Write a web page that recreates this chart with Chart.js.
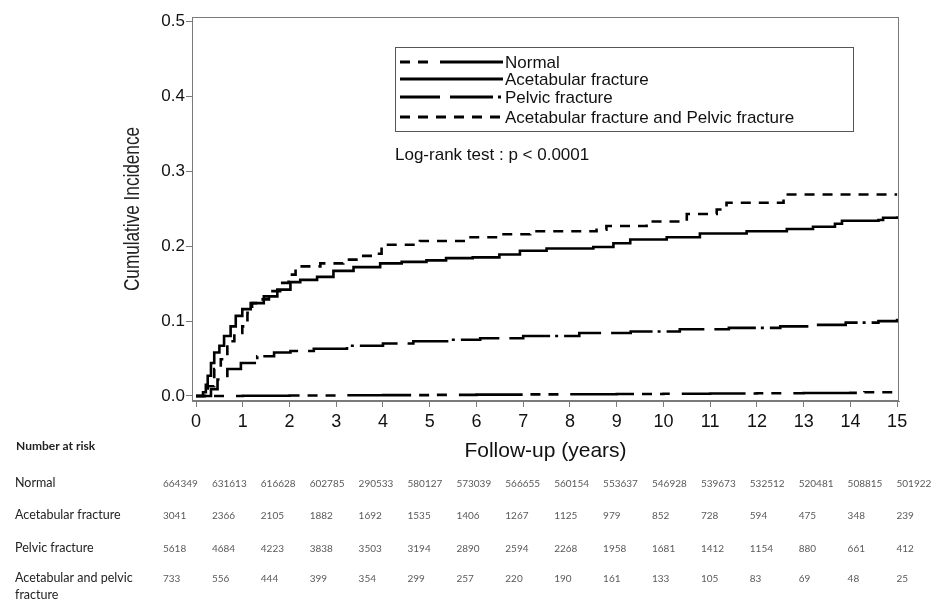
<!DOCTYPE html>
<html>
<head>
<meta charset="utf-8">
<script src="https://cdn.jsdelivr.net/npm/chart.js@4.4.1/dist/chart.umd.min.js"></script>
<style>
  body { margin: 0; background: #fff; }
  #wrap { width: 940px; height: 600px; }
</style>
</head>
<body>
<div id="wrap"><canvas id="km" width="940" height="600"></canvas></div>
<script>
// follow-up ticks (years)
const years = [0, 1, 2, 3, 4, 5, 6, 7, 8, 9, 10, 11, 12, 13, 14, 15];
const yTicks = [0, 0.1, 0.2, 0.3, 0.4, 0.5];

const seriesNames = ["Normal", "Acetabular fracture", "Pelvic fracture", "Acetabular fracture and Pelvic fracture"];

// cumulative incidence (time, value)
const tNormal = [0, 1, 2, 3, 4, 5, 6, 7, 8, 9, 10, 11, 12, 13, 14, 14.3, 15];
const vNormal = [0, 0.0003, 0.0006, 0.0009, 0.0012, 0.0015, 0.0018, 0.0021, 0.0024, 0.0027, 0.003, 0.0033, 0.0036, 0.0039, 0.0042, 0.005, 0.0052];

const tAcet = [0, 0.1, 0.15, 0.21, 0.25, 0.32, 0.39, 0.5, 0.6, 0.74, 0.85, 0.99, 1.17, 1.45, 1.74, 2.02, 2.23, 2.59, 2.94, 3.37, 3.94, 4.4, 4.93, 5.35, 5.92, 6.49, 6.93, 7.5, 8.5, 8.93, 9.29, 10.07, 10.78, 11.78, 12.64, 13.2, 13.67, 13.82, 14.6, 14.7, 15];
const vAcet = [0, 0, 0.005, 0.015, 0.027, 0.044, 0.058, 0.067, 0.08, 0.093, 0.107, 0.116, 0.124, 0.133, 0.142, 0.152, 0.155, 0.159, 0.167, 0.172, 0.177, 0.179, 0.181, 0.184, 0.185, 0.189, 0.194, 0.197, 0.199, 0.204, 0.209, 0.212, 0.217, 0.22, 0.223, 0.226, 0.23, 0.234, 0.235, 0.238, 0.24];

const tPelvic = [0, 0.18, 0.32, 0.46, 0.67, 0.96, 1.31, 1.67, 2.02, 2.52, 3.23, 4.0, 4.65, 5.5, 6.08, 7.0, 8.2, 9.3, 10.35, 11.4, 12.5, 13.2, 13.9, 14.6, 15];
const vPelvic = [0, 0, 0.009, 0.022, 0.036, 0.044, 0.053, 0.058, 0.06, 0.063, 0.067, 0.07, 0.073, 0.075, 0.077, 0.08, 0.084, 0.086, 0.089, 0.091, 0.093, 0.095, 0.098, 0.1, 0.103];

const tBoth = [0, 0.18, 0.25, 0.39, 0.53, 0.67, 0.82, 0.99, 1.1, 1.2, 1.35, 1.56, 1.8, 1.98, 2.13, 2.66, 3.15, 3.5, 3.86, 3.97, 4.79, 5.78, 6.49, 7.15, 8.57, 8.78, 9.64, 10.5, 11.14, 11.35, 12.57, 15];
const vBoth = [0, 0, 0.013, 0.036, 0.049, 0.073, 0.084, 0.093, 0.111, 0.124, 0.129, 0.14, 0.151, 0.162, 0.173, 0.177, 0.182, 0.187, 0.19, 0.202, 0.207, 0.212, 0.216, 0.22, 0.222, 0.227, 0.233, 0.243, 0.249, 0.258, 0.269, 0.269];

// number at risk table
const riskLabels = ["Normal", "Acetabular fracture", "Pelvic fracture", "Acetabular and pelvic\nfracture"];
const riskNormal = [664349, 631613, 616628, 602785, 290533, 580127, 573039, 566655, 560154, 553637, 546928, 539673, 532512, 520481, 508815, 501922];
const riskAcet = [3041, 2366, 2105, 1882, 1692, 1535, 1406, 1267, 1125, 979, 852, 728, 594, 475, 348, 239];
const riskPelvic = [5618, 4684, 4223, 3838, 3503, 3194, 2890, 2594, 2268, 1958, 1681, 1412, 1154, 880, 661, 412];
const riskBoth = [733, 556, 444, 399, 354, 299, 257, 220, 190, 161, 133, 105, 83, 69, 48, 25];

const sans = "'Liberation Sans', Arial, sans-serif";
const tableFont = "Lato, 'Open Sans', sans-serif";

function pts(t, v) {
  return t.map((x, i) => ({ x: x, y: v[i] }));
}

const dashes = [
  [10, 8, 10, 12, 64, 8],
  [],
  [40, 10, 43, 5, 3, 6],
  [10, 8]
];

const decor = {
  id: "decor",
  afterDraw(chart) {
    const ctx = chart.ctx;
    const a = chart.chartArea;
    ctx.save();

    // frame around plot
    ctx.strokeStyle = "#7a7a7a";
    ctx.lineWidth = 1;
    ctx.strokeRect(a.left + 0.5, a.top + 0.5, a.right - a.left - 1, a.bottom - a.top - 1);

    // legend box
    ctx.strokeStyle = "#555";
    ctx.strokeRect(395.5, 47.5, 458, 84);
    const ly = [62, 79, 97, 117];
    ctx.font = "17px " + sans;
    ctx.fillStyle = "#111";
    ctx.textBaseline = "middle";
    chart.data.datasets.forEach((ds, i) => {
      ctx.beginPath();
      ctx.setLineDash(ds.borderDash);
      ctx.lineWidth = 3;
      ctx.strokeStyle = "#000";
      ctx.moveTo(400, ly[i]);
      ctx.lineTo(503, ly[i]);
      ctx.stroke();
      ctx.fillText(ds.label, 505, ly[i] + 1);
    });
    ctx.setLineDash([]);

    ctx.fillText("Log-rank test : p < 0.0001", 395, 155);

    // y axis title, narrow tall type
    ctx.save();
    ctx.translate(133, (a.top + a.bottom) / 2);
    ctx.rotate(-Math.PI / 2);
    ctx.scale(0.78, 1);
    ctx.font = "22px " + sans;
    ctx.textAlign = "center";
    ctx.fillStyle = "#222";
    ctx.fillText("Cumulative Incidence", 0, 0);
    ctx.restore();

    // number at risk table
    ctx.textAlign = "left";
    ctx.fillStyle = "#222";
    ctx.font = "bold 12px " + tableFont;
    ctx.fillText("Number at risk", 16, 446);
    const rows = [riskNormal, riskAcet, riskPelvic, riskBoth];
    const ry = [483, 515, 548, 578];
    rows.forEach((row, r) => {
      ctx.font = "12.5px " + tableFont;
      ctx.fillStyle = "#222";
      riskLabels[r].split("\n").forEach((line, k) => {
        ctx.fillText(line, 15, ry[r] + k * 16.5);
      });
      ctx.font = "10px " + tableFont;
      ctx.fillStyle = "#5a5a5a";
      row.forEach((n, i) => {
        ctx.fillText(String(n), 163 + 48.9 * i, ry[r] + 1);
      });
    });
    ctx.restore();
  }
};

new Chart(document.getElementById("km"), {
  type: "line",
  data: {
    datasets: [
      { label: seriesNames[0], data: pts(tNormal, vNormal), borderDash: dashes[0] },
      { label: seriesNames[1], data: pts(tAcet, vAcet), borderDash: dashes[1] },
      { label: seriesNames[2], data: pts(tPelvic, vPelvic), borderDash: dashes[2] },
      { label: seriesNames[3], data: pts(tBoth, vBoth), borderDash: dashes[3] }
    ].map(d => Object.assign(d, {
      borderColor: "#000",
      borderWidth: 2.6,
      stepped: true,
      pointRadius: 0,
      fill: false
    }))
  },
  options: {
    responsive: false,
    animation: false,
    layout: { padding: { left: 0, top: 17, right: 41, bottom: 0 } },
    plugins: {
      legend: { display: false },
      tooltip: { enabled: false }
    },
    scales: {
      x: {
        type: "linear",
        min: -0.086,
        max: 15.04,
        afterBuildTicks: s => { s.ticks = years.map(v => ({ value: v })); },
        afterFit: s => { s.height = 199; },
        grid: { drawOnChartArea: false, tickLength: 6, color: "#7a7a7a" },
        border: { color: "#7a7a7a" },
        ticks: {
          autoSkip: false, maxRotation: 0, padding: 4,
          color: "#111", font: { family: sans, size: 18 }
        },
        title: {
          display: true, text: "Follow-up (years)", color: "#111",
          font: { family: sans, size: 21 },
          padding: { top: 0, bottom: 136 }
        }
      },
      y: {
        min: -0.0067,
        max: 0.506,
        afterBuildTicks: s => { s.ticks = yTicks.map(v => ({ value: v })); },
        afterFit: s => { s.width = 192; },
        grid: { drawOnChartArea: false, tickLength: 6, color: "#7a7a7a" },
        border: { color: "#7a7a7a" },
        ticks: {
          padding: 1, color: "#111",
          font: { family: sans, size: 17 },
          callback: v => Number(v).toFixed(1)
        }
      }
    }
  },
  plugins: [decor]
});
</script>
</body>
</html>
